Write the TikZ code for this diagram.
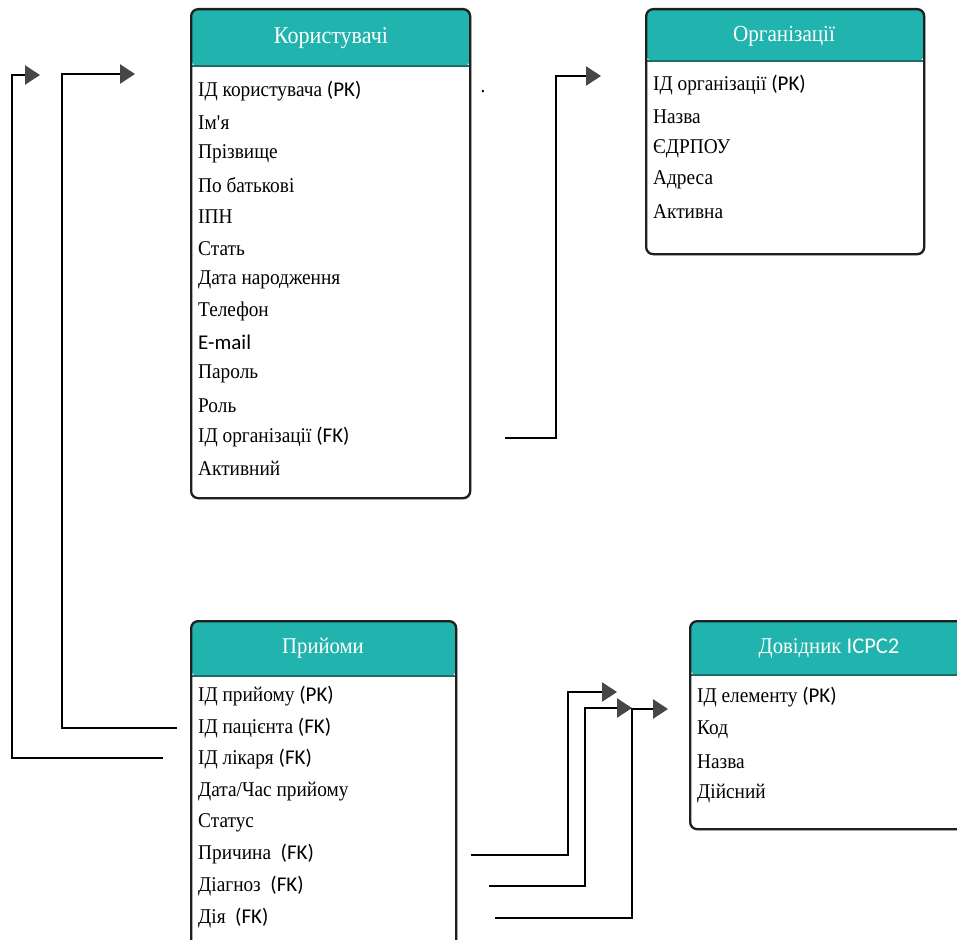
\documentclass[tikz,border=0pt]{standalone}
\usepackage{fontspec}
\setmainfont{Liberation Serif}[FakeStretch=0.92]
\newfontfamily\pkfont{Carlito}
\usetikzlibrary{arrows.meta,shadows}
\definecolor{hdteal}{HTML}{21B3AD}
\definecolor{hdline}{HTML}{1D6E6A}
\newcommand{\pk}[1]{{\pkfont #1}}
\tikzset{
  tbl/.style={draw=black!88, line width=2.3pt, rounded corners=7pt, fill=white,
    anchor=north west, inner sep=0pt,
    drop shadow={shadow xshift=1.2pt, shadow yshift=-1.2pt, opacity=.35}},
  hdr/.style={font=\fontsize{24}{24}\selectfont, text=white},
  fld/.style={anchor=west, inner sep=0pt, font=\fontsize{21}{21}\selectfont},
  link/.style={line width=2.6pt, -{Triangle[length=15pt,width=19pt,color=black!72]}}
}
\begin{document}
\begin{tikzpicture}[x=1pt,y=-1pt]
  \useasboundingbox (0,0) rectangle (957,939);
  % tables
  \node[tbl, minimum width=279pt, minimum height=489pt,
    path picture={\fill[hdteal] (path picture bounding box.north west) rectangle ([yshift=-57pt]path picture bounding box.north east);
      \draw[hdline, line width=1.5pt] ([yshift=-57pt]path picture bounding box.north west) -- ([yshift=-57pt]path picture bounding box.north east);}]
    (users) at (190,8) {};
  \node[hdr] (users-t) at (331,38) {Користувачі};
  \foreach \t [count=\i] in {{ІД користувача \pk{(PK)}}, {Ім\textquotesingle я}, {Прізвище}, {По батькові},
      {ІПН}, {Стать}, {Дата народження}, {Телефон}, {\pk{E-mail}}, {Пароль}, {Роль},
      {ІД організації \pk{(FK)}}, {Активний}}
    \node[fld] (users-\i) at (198,{91+31.45*(\i-1)}) {\t};

  \node[tbl, minimum width=278pt, minimum height=245pt,
    path picture={\fill[hdteal] (path picture bounding box.north west) rectangle ([yshift=-52pt]path picture bounding box.north east);
      \draw[hdline, line width=1.5pt] ([yshift=-52pt]path picture bounding box.north west) -- ([yshift=-52pt]path picture bounding box.north east);}]
    (orgs) at (645,8) {};
  \node[hdr, font=\fontsize{23}{23}\selectfont] (orgs-t) at (784,36) {Організації};
  \foreach \t [count=\i] in {{ІД організації \pk{(PK)}}, {Назва}, {ЄДРПОУ}, {Адреса}, {Активна}}
    \node[fld] (orgs-\i) at (653,{85+31.75*(\i-1)}) {\t};

  \node[tbl, minimum width=265pt, minimum height=330pt,
    path picture={\fill[hdteal] (path picture bounding box.north west) rectangle ([yshift=-55pt]path picture bounding box.north east);
      \draw[hdline, line width=1.5pt] ([yshift=-55pt]path picture bounding box.north west) -- ([yshift=-55pt]path picture bounding box.north east);}]
    (visits) at (190,620) {};
  \node[hdr, font=\fontsize{22.5}{22.5}\selectfont] (visits-t) at (323,648) {Прийоми};
  \foreach \t [count=\i] in {{ІД прийому \pk{(PK)}}, {ІД пацієнта \pk{(FK)}}, {ІД лікаря \pk{(FK)}},
      {Дата/Час прийому}, {Статус}, {Причина \pk{ (FK)}}, {Діагноз \pk{ (FK)}}, {Дія \pk{ (FK)}}}
    \node[fld] (visits-\i) at (198,{696+31.7*(\i-1)}) {\t};

  \node[tbl, minimum width=280pt, minimum height=208pt,
    path picture={\fill[hdteal] (path picture bounding box.north west) rectangle ([yshift=-54pt]path picture bounding box.north east);
      \draw[hdline, line width=1.5pt] ([yshift=-54pt]path picture bounding box.north west) -- ([yshift=-54pt]path picture bounding box.north east);}]
    (icpc) at (689,620) {};
  \node[hdr, font=\fontsize{22.5}{22.5}\selectfont] (icpc-t) at (829,648) {Довідник \pk{ICPC2}};
  \foreach \t [count=\i] in {{ІД елементу \pk{(PK)}}, {Код}, {Назва}, {Дійсний}}
    \node[fld] (icpc-\i) at (697,{697+32.3*(\i-1)}) {\t};

  \node[inner sep=0pt, font=\fontsize{21}{21}\selectfont] (dot) at (483,92) {.};

  % link ends
  \coordinate (a1) at (163,758);  \coordinate (b1) at (40,75);
  \coordinate (a2) at (177,728);  \coordinate (b2) at (135,74);
  \coordinate (a3) at (505,438);  \coordinate (b3) at (601,76);
  \coordinate (a4) at (471,855);  \coordinate (b4) at (617,692);
  \coordinate (a5) at (489,886);  \coordinate (b5) at (632,708);
  \coordinate (a6) at (495,918);  \coordinate (b6) at (668,709);

  \draw[link] (a1) -| (12,75) -- (b1);
  \draw[link] (a2) -| (62,74) -- (b2);
  \draw[link] (a3) -| (556,76) -- (b3);
  \draw[link] (a4) -| (568,692) -- (b4);
  \draw[link] (a5) -| (585,708) -- (b5);
  \draw[link] (a6) -| (632,709) -- (b6);
\end{tikzpicture}
\end{document}
